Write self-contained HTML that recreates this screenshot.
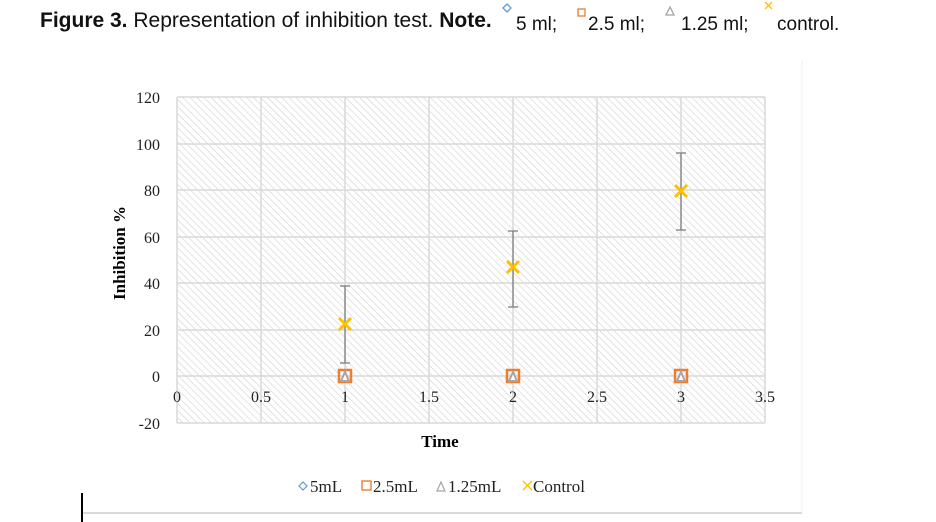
<!DOCTYPE html>
<html><head><meta charset="utf-8"><style>
body{margin:0;background:#fff;width:936px;height:522px;overflow:hidden;position:relative}
.cap{position:absolute;left:40px;top:9px;font-family:"Liberation Sans",sans-serif;font-size:21px;color:#111;white-space:nowrap}
</style></head><body>
<div class="cap"><b>Figure 3.</b> Representation of inhibition test. <b>Note.</b></div>
<svg width="936" height="522" style="position:absolute;left:0;top:0" xmlns="http://www.w3.org/2000/svg" font-family="Liberation Serif, serif">
<defs><pattern id="h" width="5" height="5" patternUnits="userSpaceOnUse" patternTransform="rotate(-45)">
<line x1="0" y1="0" x2="0" y2="5" stroke="#d0d0d0" stroke-width="1.2"/></pattern></defs>
<g font-family="Liberation Sans, sans-serif" font-size="19" fill="#111">
<path d="M503 8 l4 -4 l4 4 l-4 4z" fill="none" stroke="#5b9bd5" stroke-width="1.3"/>
<text x="516" y="30">5 ml;</text>
<rect x="578" y="9" width="7" height="7" fill="none" stroke="#ed7d31" stroke-width="1.3"/>
<text x="588" y="30">2.5 ml;</text>
<path d="M666 15 l4 -8 l4 8z" fill="none" stroke="#a5a5a5" stroke-width="1.3"/>
<text x="681" y="30">1.25 ml;</text>
<path d="M765 2 l7 7 M772 2 l-7 7" stroke="#ffc000" stroke-width="1.3"/>
<text x="777" y="30">control.</text>
</g>
<line x1="82" y1="513" x2="802" y2="513" stroke="#d9d9d9" stroke-width="2"/>
<line x1="802" y1="60" x2="802" y2="513" stroke="#f0f0f0" stroke-width="1"/>
<rect x="81" y="493" width="2" height="29" fill="#000"/>
<rect x="177" y="97" width="588" height="326" fill="url(#h)"/>
<g stroke="#d9d9d9" stroke-width="1.5">
<line x1="177" y1="97" x2="765" y2="97"/><line x1="177" y1="144" x2="765" y2="144"/>
<line x1="177" y1="190" x2="765" y2="190"/><line x1="177" y1="237" x2="765" y2="237"/>
<line x1="177" y1="283" x2="765" y2="283"/><line x1="177" y1="330" x2="765" y2="330"/>
<line x1="177" y1="376" x2="765" y2="376"/><line x1="177" y1="423" x2="765" y2="423"/>
<line x1="177" y1="97" x2="177" y2="423"/><line x1="261" y1="97" x2="261" y2="423"/>
<line x1="345" y1="97" x2="345" y2="423"/><line x1="429" y1="97" x2="429" y2="423"/>
<line x1="513" y1="97" x2="513" y2="423"/><line x1="597" y1="97" x2="597" y2="423"/>
<line x1="681" y1="97" x2="681" y2="423"/><line x1="765" y1="97" x2="765" y2="423"/>
</g>
<g font-size="16" fill="#222" text-anchor="end">
<text x="160" y="103">120</text><text x="160" y="150">100</text><text x="160" y="196">80</text>
<text x="160" y="243">60</text><text x="160" y="289">40</text><text x="160" y="336">20</text>
<text x="160" y="382">0</text><text x="160" y="429">-20</text>
</g>
<g font-size="16" fill="#222" text-anchor="middle">
<text x="177" y="402">0</text><text x="261" y="402">0.5</text><text x="345" y="402">1</text>
<text x="429" y="402">1.5</text><text x="513" y="402">2</text><text x="597" y="402">2.5</text>
<text x="681" y="402">3</text><text x="765" y="402">3.5</text>
</g>
<text x="440" y="447" font-size="17" font-weight="bold" text-anchor="middle">Time</text>
<text transform="translate(125,253) rotate(-90)" font-size="17" font-weight="bold" text-anchor="middle">Inhibition %</text>
<g stroke="#7f7f7f" stroke-width="1.3">
<line x1="345" y1="286" x2="345" y2="363"/><line x1="340" y1="286" x2="350" y2="286"/><line x1="340" y1="363" x2="350" y2="363"/>
<line x1="513" y1="231" x2="513" y2="307"/><line x1="508" y1="231" x2="518" y2="231"/><line x1="508" y1="307" x2="518" y2="307"/>
<line x1="681" y1="153" x2="681" y2="230"/><line x1="676" y1="153" x2="686" y2="153"/><line x1="676" y1="230" x2="686" y2="230"/>
</g>
<g stroke="#ffc000" stroke-width="3">
<path d="M339 318 l12 12 M351 318 l-12 12"/>
<path d="M507 261 l12 12 M519 261 l-12 12"/>
<path d="M675 185 l12 12 M687 185 l-12 12"/>
</g>
<g>
<rect x="339" y="370" width="12" height="12" fill="none" stroke="#ed7d31" stroke-width="2.5"/>
<path d="M341 381 l4 -9 l4 9z" fill="#fff" stroke="#a5a5a5" stroke-width="2"/>
<rect x="507" y="370" width="12" height="12" fill="none" stroke="#ed7d31" stroke-width="2.5"/>
<path d="M509 381 l4 -9 l4 9z" fill="#fff" stroke="#a5a5a5" stroke-width="2"/>
<rect x="675" y="370" width="12" height="12" fill="none" stroke="#ed7d31" stroke-width="2.5"/>
<path d="M677 381 l4 -9 l4 9z" fill="#fff" stroke="#a5a5a5" stroke-width="2"/>
</g>
<g font-size="17" fill="#222">
<path d="M299 486 l4 -4 l4 4 l-4 4z" fill="none" stroke="#5b9bd5" stroke-width="1.2"/>
<text x="310" y="492">5mL</text>
<rect x="362" y="481" width="9" height="9" fill="none" stroke="#ed7d31" stroke-width="1.4"/>
<text x="373" y="492">2.5mL</text>
<path d="M437 491 l4 -9 l4 9z" fill="none" stroke="#a5a5a5" stroke-width="1.2"/>
<text x="448" y="492">1.25mL</text>
<path d="M523 481 l9 9 M532 481 l-9 9" stroke="#ffc000" stroke-width="1.4"/>
<text x="533" y="492">Control</text>
</g>
</svg>
</body></html>
